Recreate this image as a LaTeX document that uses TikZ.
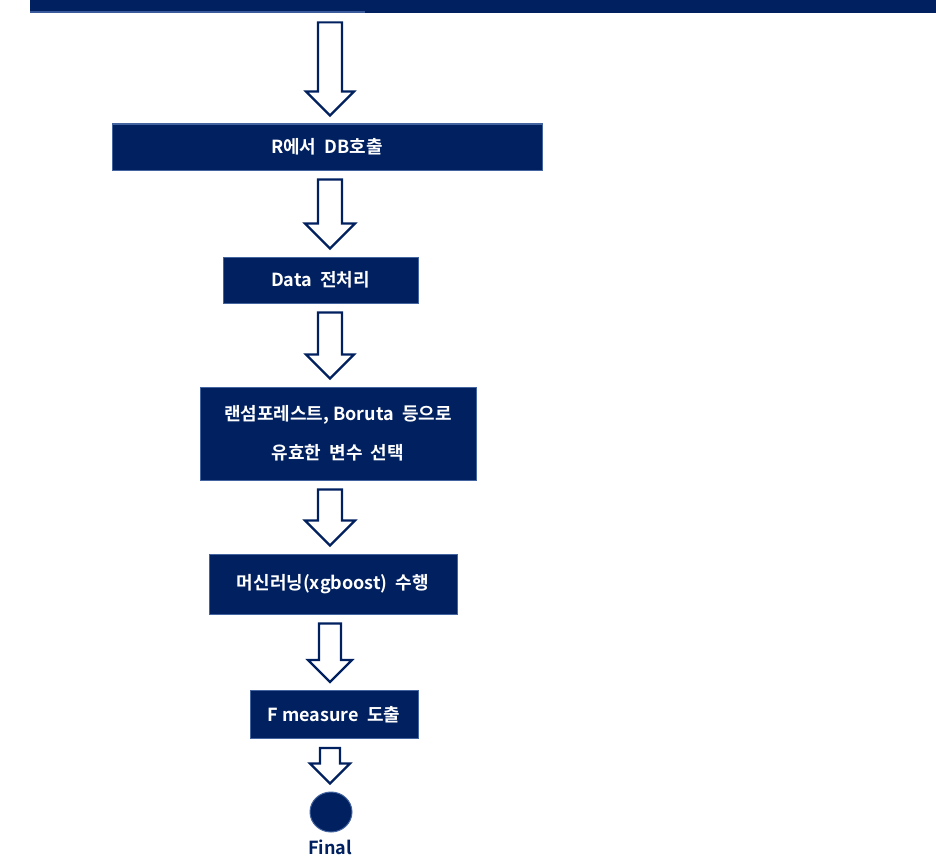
\documentclass[tikz,border=0pt]{standalone}
\usepackage{fontspec}
\setmainfont{Noto Sans CJK KR}[BoldFont={Noto Sans CJK KR Bold}]
\usetikzlibrary{calc,shapes.geometric}
\definecolor{navy1}{RGB}{0,32,96}
\definecolor{edge1}{RGB}{68,100,160}
\definecolor{strip1}{RGB}{58,90,155}

\tikzset{
  stepbox/.style={fill=navy1,draw=edge1,line width=1pt,text=white,
    font=\bfseries\fontsize{18}{39}\selectfont,align=center,inner sep=0pt},
  hollow/.style={draw=navy1,line width=2.2pt,fill=white,line join=miter}
}
% #1 from, #2 to, #3 half shaft, #4 half head (= head length)
\newcommand{\downarrowbox}[4]{%
  \draw[hollow] let \p1=(#1.south), \p2=(#2.north) in
    (330pt-#3,\y1-9pt) -- (330pt+#3,\y1-9pt) -- (330pt+#3,\y2+8pt+#4)
    -- (330pt+#4,\y2+8pt+#4) -- (330pt,\y2+8pt) -- (330pt-#4,\y2+8pt+#4)
    -- (330pt-#3,\y2+8pt+#4) -- cycle;
}

\begin{document}
\begin{tikzpicture}[x=1pt,y=-1pt]
    \useasboundingbox (0,0) rectangle (936,856);
    \node[fill=navy1,inner sep=0pt,minimum width=906,minimum height=13,anchor=north west] (bar) at (30,0) {};
    \fill[strip1] (30,11) rectangle (365,13);

    \node[stepbox,minimum width=430,minimum height=46] (dbcall) at (327,147) {R에서 \ DB호출};
    \node[stepbox,minimum width=195,minimum height=46] (prep) at (320.5,280) {Data \ 전처리};
    \node[stepbox,minimum width=276,minimum height=93] (select) at (338,433.5) {랜섬포레스트, Boruta \ 등으로\\유효한 \ 변수 \ 선택};
    \node[stepbox,minimum width=248,minimum height=60] (learn) at (333,584) {머신러닝(xgboost) \ 수행};
    \node[stepbox,minimum width=168,minimum height=48] (fmeas) at (334,714.5) {F measure \ 도출};
    \node[ellipse,fill=navy1,draw=edge1,line width=1pt,minimum width=42,minimum height=40,inner sep=0pt] (final) at (331,812) {};
    \node[text=navy1,font=\bfseries\fontsize{18}{20}\selectfont] (finaltxt) at (330,847) {Final};

    \downarrowbox{bar}{dbcall}{12pt}{24pt}
    \downarrowbox{dbcall}{prep}{12pt}{25pt}
    \downarrowbox{prep}{select}{12pt}{24pt}
    \downarrowbox{select}{learn}{12pt}{25pt}
    \downarrowbox{learn}{fmeas}{11pt}{22pt}
    \downarrowbox{fmeas}{final}{10pt}{20pt}

\end{tikzpicture}
\end{document}
